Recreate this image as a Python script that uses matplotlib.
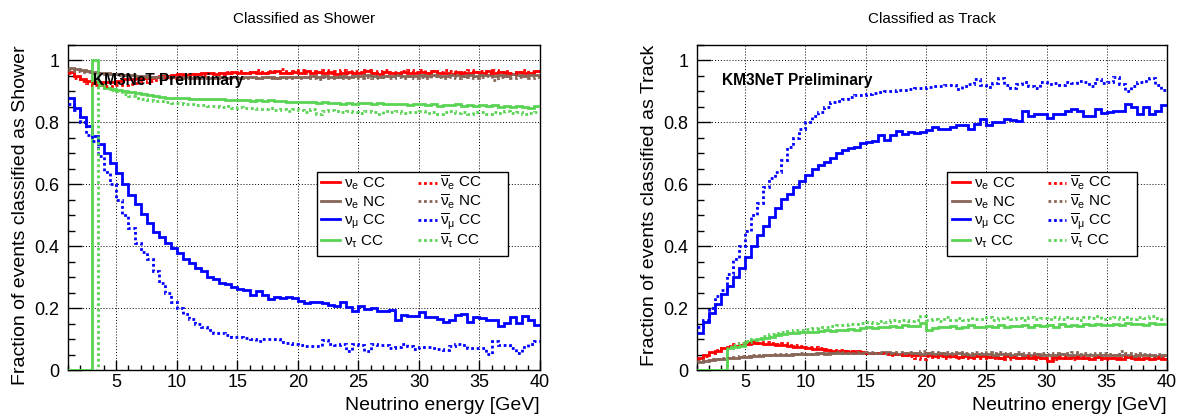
import numpy as np
import matplotlib.pyplot as plt
from matplotlib.lines import Line2D
from matplotlib.patches import Rectangle
from matplotlib.ticker import MultipleLocator, FuncFormatter

plt.rcParams['font.family'] = ['Liberation Sans', 'DejaVu Sans']
plt.rcParams['mathtext.fontset'] = 'custom'
plt.rcParams['mathtext.rm'] = 'Liberation Sans'
plt.rcParams['mathtext.it'] = 'Liberation Sans'
plt.rcParams['mathtext.bf'] = 'Liberation Sans:bold'
plt.rcParams['mathtext.default'] = 'regular'

########################################################################
# Data: fraction per 0.5 GeV energy bin, 1 - 40 GeV

energy_edges = np.arange(1.0, 40.25, 0.5)

# --- classified as shower
nue_cc_shower = [0.962, 0.95, 0.94, 0.935, 0.932, 0.93, 0.93, 0.932, 0.935, 0.94, 0.94, 0.943, 0.945, 0.945, 0.948, 0.95, 0.95, 0.952,
                 0.955, 0.953, 0.957, 0.955, 0.958, 0.96, 0.955, 0.96, 0.958, 0.962, 0.96, 0.958,
                 0.963, 0.96, 0.958, 0.962, 0.965, 0.96, 0.958, 0.962,
                 0.96, 0.965, 0.958, 0.962, 0.96, 0.963, 0.955, 0.96, 0.962, 0.958,
                 0.96, 0.965, 0.96, 0.955, 0.962, 0.958, 0.96, 0.963, 0.96, 0.958,
                 0.962, 0.96, 0.965, 0.958, 0.96, 0.955, 0.962, 0.96, 0.958, 0.963,
                 0.96, 0.965, 0.958, 0.962, 0.96, 0.955, 0.962, 0.958, 0.96, 0.965]
nuebar_cc_shower = [0.958, 0.945, 0.935, 0.928, 0.922, 0.92, 0.918, 0.918,
                    0.92, 0.922, 0.925, 0.928, 0.93, 0.935, 0.938, 0.94, 0.942, 0.945,
                    0.948, 0.95, 0.952, 0.955, 0.953, 0.958, 0.96, 0.957, 0.962, 0.96,
                    0.965, 0.958, 0.962, 0.97, 0.96, 0.965, 0.962, 0.972, 0.96, 0.965,
                    0.968, 0.96, 0.965, 0.962, 0.97, 0.958, 0.965, 0.968, 0.96, 0.965,
                    0.962, 0.968, 0.96, 0.965, 0.97, 0.962, 0.958, 0.965, 0.968, 0.962,
                    0.97, 0.96, 0.965, 0.962, 0.968, 0.965, 0.96, 0.963, 0.97, 0.962,
                    0.965, 0.96, 0.968, 0.962, 0.965, 0.958, 0.963, 0.968, 0.962, 0.965]
nue_nc_shower = [0.975, 0.972, 0.968, 0.965, 0.962, 0.96, 0.958, 0.956,
                 0.955, 0.953, 0.952, 0.95, 0.95, 0.948, 0.948, 0.947, 0.946, 0.946,
                 0.945, 0.946, 0.944, 0.945, 0.946, 0.944, 0.945, 0.947, 0.945, 0.946,
                 0.945, 0.947, 0.946, 0.944, 0.948, 0.946, 0.945, 0.947, 0.948, 0.946,
                 0.948, 0.946, 0.949, 0.947, 0.95, 0.948, 0.946, 0.95, 0.948, 0.951,
                 0.949, 0.952, 0.95, 0.948, 0.951, 0.95, 0.953, 0.949, 0.951, 0.95,
                 0.952, 0.95, 0.953, 0.951, 0.95, 0.954, 0.952, 0.95, 0.953, 0.951,
                 0.952, 0.954, 0.95, 0.953, 0.951, 0.955, 0.952, 0.95, 0.954, 0.952]
nuebar_nc_shower = [0.968, 0.966, 0.964, 0.962, 0.96, 0.958, 0.957, 0.955,
                    0.954, 0.952, 0.951, 0.95, 0.949, 0.948, 0.948, 0.947, 0.946, 0.947,
                    0.946, 0.945, 0.947, 0.944, 0.946, 0.945, 0.943, 0.946, 0.944, 0.947,
                    0.945, 0.943, 0.947, 0.944, 0.946, 0.942, 0.945, 0.948, 0.944, 0.946,
                    0.943, 0.947, 0.945, 0.941, 0.946, 0.944, 0.948, 0.942, 0.945, 0.947,
                    0.944, 0.948, 0.942, 0.946, 0.95, 0.944, 0.947, 0.943, 0.949, 0.945,
                    0.948, 0.944, 0.95, 0.946, 0.942, 0.948, 0.945, 0.95, 0.946, 0.943,
                    0.947, 0.95, 0.938, 0.946, 0.949, 0.944, 0.948, 0.951, 0.945, 0.948]
numu_cc_shower = [0.88, 0.845, 0.816, 0.788, 0.756, 0.73, 0.70, 0.67, 0.635, 0.60, 0.565, 0.535, 0.505, 0.475, 0.447, 0.43, 0.41, 0.393,
                  0.377, 0.36, 0.345, 0.33,
                  0.321, 0.30, 0.293, 0.282, 0.278, 0.267, 0.263, 0.26, 0.242, 0.256, 0.242, 0.228, 0.237, 0.232, 0.235, 0.232,
                  0.224, 0.215, 0.22, 0.22, 0.215, 0.21, 0.207, 0.22, 0.205, 0.19, 0.207, 0.198, 0.20, 0.19, 0.192, 0.195,
                  0.162, 0.178, 0.174, 0.174, 0.187, 0.172, 0.172, 0.164, 0.156, 0.162, 0.178, 0.18,
                  0.156, 0.17, 0.168, 0.162, 0.162, 0.142, 0.151, 0.172, 0.151, 0.174, 0.162, 0.145]
numubar_cc_shower = [0.86, 0.84, 0.80, 0.76, 0.74, 0.69, 0.64, 0.60, 0.55, 0.50, 0.46, 0.41, 0.38, 0.36, 0.32, 0.28, 0.25, 0.22,
                     0.20, 0.18, 0.165, 0.15,
                     0.14, 0.13, 0.12, 0.118, 0.112, 0.108,
                     0.107, 0.103, 0.10, 0.093, 0.10, 0.10, 0.10, 0.09, 0.088, 0.085,
                     0.08, 0.078, 0.078, 0.078, 0.097, 0.085, 0.08, 0.085, 0.06, 0.085,
                     0.08, 0.06, 0.085, 0.08, 0.081, 0.07, 0.075, 0.085, 0.078, 0.067,
                     0.075, 0.075, 0.07, 0.068, 0.066, 0.078, 0.085, 0.08, 0.072, 0.07,
                     0.07, 0.053, 0.095, 0.08, 0.08, 0.07, 0.055, 0.075, 0.085, 0.093]
nutau_cc_shower = [0.0, 0.0, 0.0, 0.0, 1.0, 0.92, 0.912, 0.908,
                   0.905, 0.9, 0.897, 0.895, 0.892, 0.89, 0.886, 0.883, 0.88, 0.879,
                   0.878, 0.879, 0.877, 0.876, 0.875, 0.876, 0.874, 0.875, 0.872, 0.873,
                   0.871, 0.872, 0.87, 0.871, 0.869, 0.871, 0.87, 0.868, 0.866, 0.867,
                   0.866, 0.865, 0.867, 0.864, 0.866, 0.862, 0.864, 0.858, 0.863, 0.861,
                   0.862, 0.864, 0.86, 0.862, 0.858, 0.861, 0.859, 0.86, 0.857, 0.86,
                   0.858, 0.856, 0.859, 0.854, 0.857, 0.855, 0.858, 0.853, 0.856, 0.854,
                   0.855, 0.852, 0.856, 0.85, 0.854, 0.851, 0.853, 0.849, 0.846, 0.852]
nutaubar_cc_shower = [0.0, 0.0, 0.0, 0.0, 0.0, 0.92, 0.912, 0.905,
                      0.9, 0.893, 0.886, 0.88, 0.876, 0.873, 0.87, 0.868, 0.865, 0.863,
                      0.862, 0.86, 0.858, 0.855, 0.857, 0.852, 0.854, 0.85, 0.852, 0.848,
                      0.85, 0.846, 0.848, 0.844, 0.842, 0.845, 0.84, 0.843, 0.838, 0.842,
                      0.84, 0.835, 0.842, 0.826, 0.838, 0.84, 0.836, 0.832, 0.838, 0.835,
                      0.83, 0.838, 0.834, 0.828, 0.836, 0.832, 0.838, 0.83, 0.835, 0.833,
                      0.836, 0.83, 0.834, 0.828, 0.832, 0.838, 0.83, 0.833, 0.827, 0.835,
                      0.832, 0.828, 0.835, 0.83, 0.836, 0.829, 0.833, 0.826, 0.831, 0.834]

# --- classified as track
nue_cc_track = [0.038, 0.048, 0.058, 0.063, 0.07, 0.075, 0.078, 0.082,
                0.085, 0.086, 0.087, 0.085, 0.084, 0.082, 0.08, 0.078, 0.075, 0.073,
                0.07, 0.068, 0.067, 0.065, 0.063, 0.062, 0.06, 0.058, 0.06, 0.057,
                0.056, 0.055, 0.056, 0.054, 0.053, 0.052, 0.05, 0.051, 0.049, 0.048,
                0.047, 0.045, 0.048, 0.044, 0.046, 0.043, 0.045, 0.042, 0.044, 0.046,
                0.043, 0.045, 0.04, 0.044, 0.042, 0.038, 0.043, 0.04, 0.042, 0.04,
                0.03, 0.042, 0.038, 0.04, 0.043, 0.038, 0.04, 0.036, 0.041, 0.039,
                0.038, 0.04, 0.036, 0.042, 0.038, 0.035, 0.04, 0.037, 0.038, 0.036]
nuebar_cc_track = [0.035, 0.045, 0.055, 0.065, 0.072, 0.078, 0.083, 0.086,
                   0.088, 0.09, 0.088, 0.09, 0.087, 0.085, 0.086, 0.082, 0.08, 0.078,
                   0.075, 0.073, 0.07, 0.068, 0.066, 0.064, 0.062, 0.06, 0.058, 0.057,
                   0.055, 0.054, 0.056, 0.053, 0.05, 0.052, 0.048, 0.045, 0.04, 0.035,
                   0.045, 0.042, 0.046, 0.04, 0.044, 0.038, 0.042, 0.04, 0.045, 0.04,
                   0.042, 0.038, 0.04, 0.035, 0.042, 0.04, 0.038, 0.044, 0.035, 0.04,
                   0.04, 0.036, 0.042, 0.038, 0.035, 0.043, 0.04, 0.038, 0.042, 0.036,
                   0.04, 0.035, 0.038, 0.042, 0.037, 0.04, 0.035, 0.039, 0.041, 0.038]
nue_nc_track = [0.027, 0.029, 0.032, 0.034, 0.036, 0.038, 0.04, 0.042,
                0.043, 0.045, 0.046, 0.047, 0.048, 0.049, 0.05, 0.05, 0.051, 0.052,
                0.052, 0.053, 0.054, 0.053, 0.055, 0.054, 0.056, 0.055, 0.054, 0.056,
                0.055, 0.056, 0.054, 0.057, 0.055, 0.053, 0.056, 0.054, 0.055, 0.053,
                0.054, 0.052, 0.055, 0.053, 0.051, 0.054, 0.052, 0.05, 0.053, 0.051,
                0.052, 0.05, 0.053, 0.051, 0.049, 0.052, 0.05, 0.048, 0.051, 0.049,
                0.05, 0.048, 0.051, 0.049, 0.05, 0.047, 0.05, 0.048, 0.049, 0.047,
                0.048, 0.05, 0.047, 0.049, 0.046, 0.048, 0.047, 0.049, 0.046, 0.048]
nuebar_nc_track = [0.03, 0.032, 0.034, 0.036, 0.038, 0.04, 0.042, 0.044,
                   0.046, 0.047, 0.048, 0.05, 0.05, 0.052, 0.051, 0.053, 0.052, 0.054,
                   0.053, 0.055, 0.054, 0.056, 0.055, 0.057, 0.054, 0.056, 0.058, 0.055,
                   0.057, 0.055, 0.058, 0.056, 0.054, 0.057, 0.055, 0.058, 0.056, 0.06,
                   0.055, 0.058, 0.054, 0.057, 0.055, 0.059, 0.056, 0.054, 0.058, 0.055,
                   0.057, 0.054, 0.058, 0.055, 0.053, 0.057, 0.054, 0.056, 0.052, 0.055,
                   0.053, 0.056, 0.052, 0.055, 0.058, 0.053, 0.055, 0.051, 0.054, 0.056,
                   0.053, 0.05, 0.062, 0.054, 0.052, 0.055, 0.051, 0.049, 0.053, 0.05]
numu_cc_track = [0.12, 0.155, 0.184, 0.212, 0.244, 0.27, 0.30, 0.33, 0.365, 0.40, 0.435, 0.465, 0.495, 0.525, 0.553, 0.57, 0.59, 0.612,
                 0.63, 0.648, 0.662, 0.673,
                 0.685, 0.70, 0.712, 0.718, 0.722, 0.733, 0.737, 0.74, 0.758, 0.744, 0.758, 0.772, 0.763, 0.768, 0.765, 0.768,
                 0.776, 0.785, 0.78, 0.78, 0.785, 0.79, 0.793, 0.78, 0.795, 0.81, 0.793, 0.802, 0.80, 0.81, 0.808, 0.805,
                 0.838, 0.822, 0.826, 0.826, 0.813, 0.828, 0.828, 0.836, 0.844, 0.838, 0.822, 0.82,
                 0.844, 0.83, 0.832, 0.838, 0.838, 0.858, 0.849, 0.828, 0.849, 0.826, 0.838, 0.855]
numubar_cc_track = [0.14, 0.16, 0.20, 0.24, 0.26, 0.31, 0.36, 0.40, 0.45, 0.50, 0.54, 0.59, 0.62, 0.64, 0.68, 0.72, 0.75, 0.78,
                    0.80, 0.82, 0.835, 0.85,
                    0.865, 0.87, 0.876, 0.882, 0.888, 0.89,
                    0.892, 0.895, 0.898, 0.9, 0.902, 0.905, 0.904, 0.907, 0.91, 0.912,
                    0.915, 0.918, 0.916, 0.92, 0.922, 0.907, 0.918, 0.925, 0.94, 0.922,
                    0.915, 0.928, 0.945, 0.92, 0.91, 0.925, 0.93, 0.918, 0.912, 0.932,
                    0.925, 0.928, 0.92, 0.93, 0.926, 0.935, 0.93, 0.918, 0.94, 0.928,
                    0.932, 0.947, 0.925, 0.9, 0.918, 0.93, 0.935, 0.945, 0.92, 0.905]
nutau_cc_track = [0.0, 0.0, 0.0, 0.0, 0.0, 0.07, 0.074, 0.077,
                  0.09, 0.097, 0.1, 0.104, 0.108, 0.112, 0.115, 0.118, 0.12, 0.122,
                  0.124, 0.122, 0.125, 0.128, 0.126, 0.13, 0.128, 0.132, 0.13, 0.135,
                  0.14, 0.137, 0.14, 0.138, 0.142, 0.14, 0.145, 0.143, 0.141, 0.152,
                  0.13, 0.135, 0.14, 0.138, 0.142, 0.136, 0.14, 0.145, 0.138, 0.14,
                  0.142, 0.14, 0.145, 0.138, 0.143, 0.141, 0.146, 0.14, 0.144, 0.142,
                  0.145, 0.14, 0.148, 0.143, 0.146, 0.142, 0.15, 0.145, 0.148, 0.144,
                  0.147, 0.15, 0.145, 0.152, 0.148, 0.15, 0.147, 0.153, 0.15, 0.148]
nutaubar_cc_track = [0.0, 0.0, 0.0, 0.0, 0.0, 0.075, 0.082, 0.088,
                     0.095, 0.1, 0.105, 0.11, 0.115, 0.118, 0.122, 0.125, 0.128, 0.13,
                     0.132, 0.135, 0.138, 0.14, 0.142, 0.145, 0.147, 0.15, 0.148, 0.152,
                     0.155, 0.153, 0.158, 0.156, 0.16, 0.158, 0.162, 0.157, 0.16, 0.175,
                     0.16, 0.165, 0.158, 0.17, 0.162, 0.167, 0.16, 0.168, 0.164, 0.166,
                     0.17, 0.163, 0.168, 0.172, 0.165, 0.168, 0.162, 0.17, 0.166, 0.168,
                     0.165, 0.17, 0.166, 0.172, 0.168, 0.162, 0.17, 0.167, 0.173, 0.165,
                     0.168, 0.172, 0.165, 0.17, 0.164, 0.171, 0.167, 0.174, 0.169, 0.166]

nu_labels = [r'$\nu_{e}$ CC', r'$\nu_{e}$ NC', r'$\nu_{\mu}$ CC', r'$\nu_{\tau}$ CC']
nubar_labels = [r'$\overline{\nu}_{e}$ CC', r'$\overline{\nu}_{e}$ NC',
                r'$\overline{\nu}_{\mu}$ CC', r'$\overline{\nu}_{\tau}$ CC']

########################################################################
# Styles

colors = ['#ff0000', '#876657', '#0000ff', '#59d454']
dotted = (0, (1, 1))

########################################################################
# Plot

fig = plt.figure(figsize=(11.86, 4.18), dpi=100)
ax_sh = fig.add_axes([0.0573, 0.1148, 0.398, 0.7775])
ax_tr = fig.add_axes([0.5877, 0.1148, 0.3963, 0.7775])

panels = [
    (ax_sh, 'Shower', [nue_cc_shower, nue_nc_shower, numu_cc_shower, nutau_cc_shower],
     [nuebar_cc_shower, nuebar_nc_shower, numubar_cc_shower, nutaubar_cc_shower], 0.5275),
    (ax_tr, 'Track', [nue_cc_track, nue_nc_track, numu_cc_track, nutau_cc_track],
     [nuebar_cc_track, nuebar_nc_track, numubar_cc_track, nutaubar_cc_track], 0.532),
]

for ax, kind, nu, nubar, leg_x in panels:
    for vals, c in zip(nu, colors):
        ax.stairs(vals, energy_edges, baseline=None, color=c, lw=2.0, zorder=3)
    for vals, c in zip(nubar, colors):
        ax.stairs(vals, energy_edges, baseline=None, color=c, lw=2.0, ls=dotted, zorder=3)

    ax.set_xlim(1, 40)
    ax.set_ylim(0, 1.05)
    ax.set_xticks(range(5, 41, 5))
    ax.xaxis.set_minor_locator(MultipleLocator(1))
    ax.set_yticks([0, 0.2, 0.4, 0.6, 0.8, 1.0])
    ax.yaxis.set_minor_locator(MultipleLocator(0.05))
    ax.yaxis.set_major_formatter(FuncFormatter(lambda v, p: f"{v:g}"))
    ax.tick_params(which='both', direction='in', labelsize=13, top=False, right=False, width=1)
    ax.tick_params(axis='y', which='major', length=10, pad=6)
    ax.tick_params(axis='y', which='minor', length=5)
    ax.tick_params(axis='x', which='major', length=7, pad=3)
    ax.tick_params(axis='x', which='minor', length=3.5)
    ax.grid(True, which='major', color='black', ls=(0, (1, 2)), lw=0.7)
    for s in ax.spines.values():
        s.set_linewidth(1.0)

    ax.set_title(f"Classified as {kind}", fontsize=11, pad=16)
    ax.set_ylabel(f"Fraction of events classified as {kind}", fontsize=14, loc='top', labelpad=4)
    ax.set_xlabel("Neutrino energy [GeV]", fontsize=14, loc='right', labelpad=4)

    ax.text(0.053, 0.892, "KM3NeT Preliminary", transform=ax.transAxes, fontsize=11.2,
            fontweight='bold', va='center', zorder=5)

    # legend box with two columns (solid: neutrino, dotted: antineutrino)
    ax.add_patch(Rectangle((leg_x, 0.351), 0.405, 0.258, transform=ax.transAxes,
                           facecolor='white', edgecolor='black', lw=1.0, zorder=6))
    h_nu = [Line2D([], [], color=c, lw=2.0) for c in colors]
    h_nubar = [Line2D([], [], color=c, lw=2.0, ls=dotted) for c in colors]
    leg_opts = dict(loc='upper left', frameon=False, fontsize=11, borderaxespad=0, borderpad=0.2,
                    handlelength=1.2, handletextpad=0.25)
    leg1 = ax.legend(h_nu, nu_labels, bbox_to_anchor=(leg_x + 0.003, 0.607), labelspacing=0.14, **leg_opts)
    leg1.set_zorder(7)
    ax.add_artist(leg1)
    leg2 = ax.legend(h_nubar, nubar_labels, bbox_to_anchor=(leg_x + 0.208, 0.612), labelspacing=0.03, **leg_opts)
    leg2.set_zorder(7)

fig.savefig("out.png", dpi=100)
